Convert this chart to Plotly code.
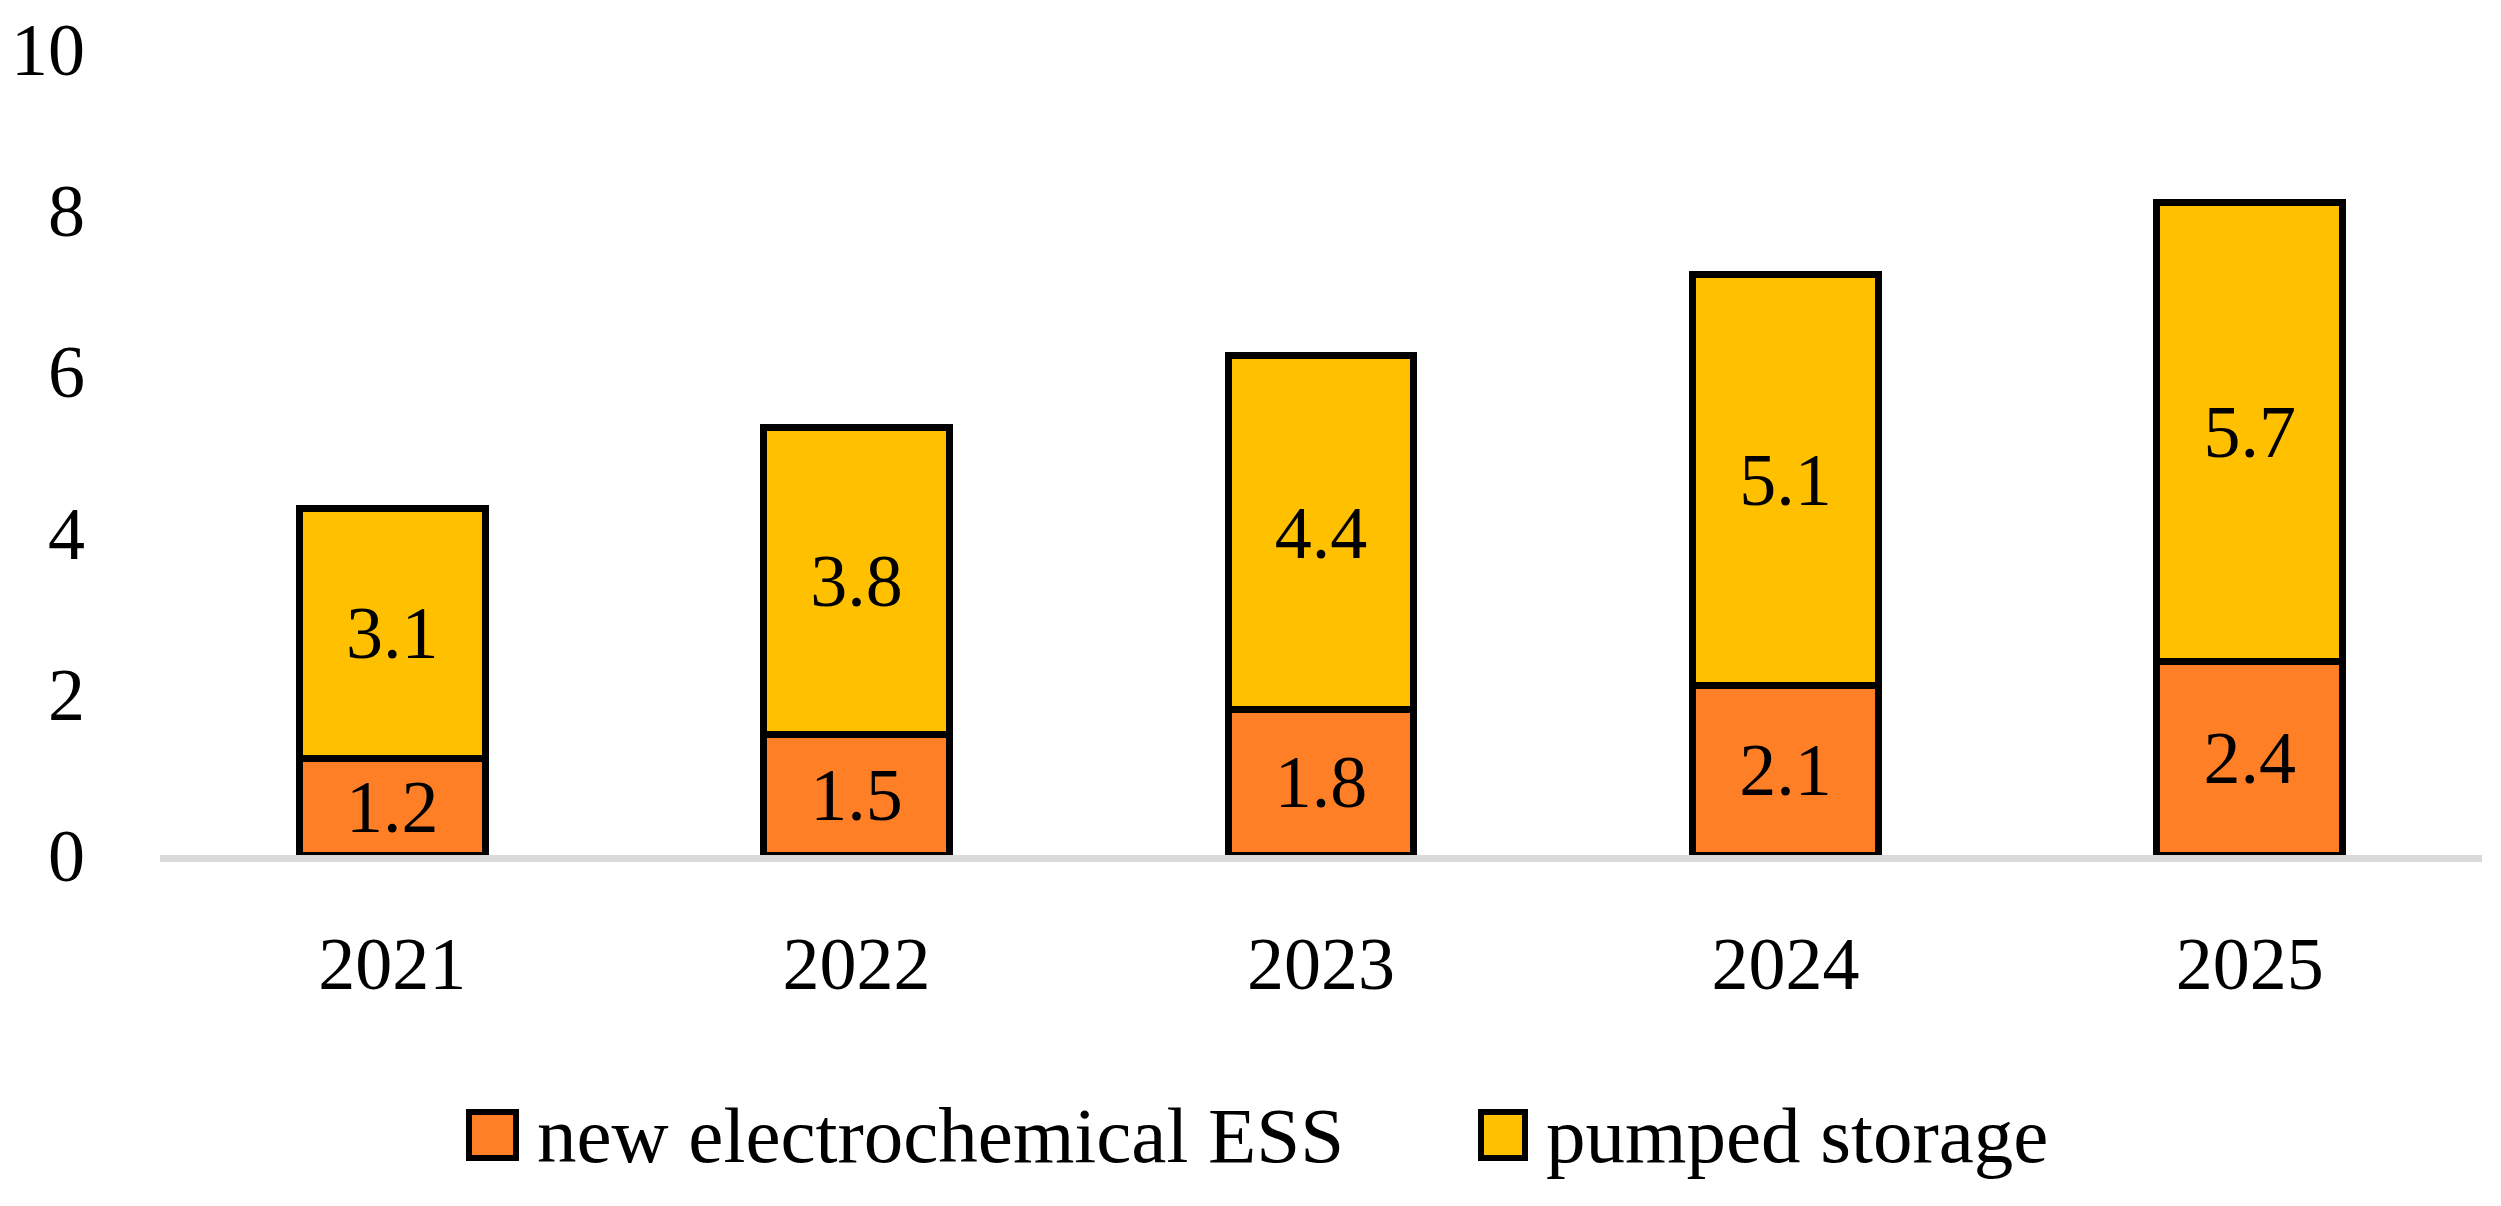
import plotly.graph_objects as go

years = ["2021", "2022", "2023", "2024", "2025"]
ess = [1.2, 1.5, 1.8, 2.1, 2.4]
pumped = [3.1, 3.8, 4.4, 5.1, 5.7]
series_names = ["new electrochemical ESS", "pumped storage"]
y_ticks = [0, 2, 4, 6, 8, 10]

W, H = 2501, 1206
L, R, T, B = 152, 27, 41, 359
FONT = "Liberation Serif"
FS = 74
LEG_FS = 79
ORANGE = "#FF7F27"
YELLOW = "#FFC000"

fig = go.Figure()
for name, vals, col in [(series_names[0], ess, ORANGE), (series_names[1], pumped, YELLOW)]:
    fig.add_trace(go.Bar(
        x=years, y=vals, name=name,
        marker=dict(color=col, line=dict(color="black", width=7)),
        text=[f"{v:.1f}" for v in vals],
        textposition="inside", insidetextanchor="middle", textangle=0,
        constraintext="none",
        textfont=dict(family=FONT, size=FS, color="black"),
        showlegend=False, hoverinfo="skip",
    ))

pw = W - L - R
ph = H - T - B
def px2x(px):
    return (px - L) / pw
def py2y(py):
    return (H - B - py) / ph

shapes = []
annotations = []
LEG_Y = 1127
legend_items = [(458, 511, 527, ORANGE, series_names[0]), (1470, 1520, 1536, YELLOW, series_names[1])]
for x0, x1, tx, col, name in legend_items:
    shapes.append(dict(type="rect", xref="paper", yref="paper",
                       x0=px2x(x0 + 3), x1=px2x(x1 - 3), y0=py2y(LEG_Y - 26 + 3), y1=py2y(LEG_Y + 26 - 3),
                       line=dict(color="black", width=6), fillcolor=col, layer="above"))
    annotations.append(dict(xref="paper", yref="paper", x=px2x(tx), y=py2y(LEG_Y),
                            xanchor="left", yanchor="middle", showarrow=False,
                            text=name, font=dict(family=FONT, size=LEG_FS, color="black")))

fig.update_layout(
    width=W, height=H,
    margin=dict(l=L, r=R, t=T, b=B, autoexpand=False),
    barmode="stack", bargap=0.6,
    paper_bgcolor="white", plot_bgcolor="white",
    font=dict(family=FONT, size=FS, color="black"),
    showlegend=False,
    shapes=shapes, annotations=annotations,
    xaxis=dict(showline=True, linecolor="#D9D9D9", linewidth=7, showgrid=False,
               ticks="", tickfont=dict(family=FONT, size=FS, color="black"),
               ticklabelstandoff=38, fixedrange=True),
    yaxis=dict(range=[0, 10], tickvals=y_ticks, showgrid=False, zeroline=False,
               showline=False, ticks="", ticklabelstandoff=74,
               tickfont=dict(family=FONT, size=FS, color="black"), fixedrange=True),
)

fig.write_html("out.html")
